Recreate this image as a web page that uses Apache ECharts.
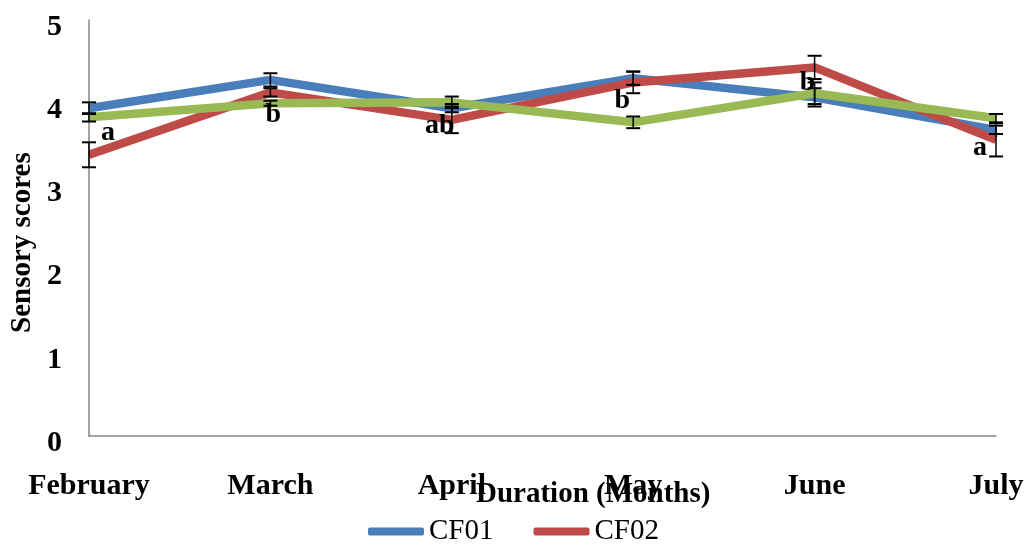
<!DOCTYPE html>
<html><head><meta charset="utf-8">
<script src="https://cdn.jsdelivr.net/npm/echarts@6/dist/echarts.min.js"></script>
<style>html,body{margin:0;padding:0;background:#fff}#c{width:1027px;height:547px}</style>
</head><body><div id="c"></div>
<script>
const months = ['February','March','April','May','June','July'];
const cf01 = [3.94, 4.28, 3.94, 4.30, 4.07, 3.68];
const cf02 = [3.38, 4.13, 3.80, 4.25, 4.43, 3.56];
const cf03 = [3.83, 4.00, 4.01, 3.77, 4.12, 3.82];
const err01 = [0.07, 0.08, 0.05, 0.08, 0.11, 0.05];
const err02 = [0.15, 0.05, 0.16, 0.13, 0.14, 0.20];
const err03 = [0.05, 0.03, 0.07, 0.07, 0.13, 0.05];
const letters = ['a','b','ab','b','b','a'];
const letterY = [3.65, 3.86, 3.73, 4.03, 4.25, 3.46];
const letterDx = [19, 3, -12, -11, -7, -16];
const yTicks = [0,1,2,3,4,5];

const FONT = '"Liberation Serif","Times New Roman",serif';
const colors = ['#4a7ebb','#be4b48','#98b954'];

function errSeries(vals, errs){
  return {
    type:'custom', silent:true, z:5,
    data: vals.map((v,i)=>[i, v, errs[i]]),
    renderItem:(params, api)=>{
      const x = api.value(0), v = api.value(1), e = api.value(2);
      const top = api.coord([x, v+e]), bot = api.coord([x, v-e]);
      const w = 7;
      return {type:'group', children:[
        {type:'line', shape:{x1:top[0],y1:top[1],x2:bot[0],y2:bot[1]}, style:{stroke:'#000',lineWidth:1.5}},
        {type:'line', shape:{x1:top[0]-w,y1:top[1],x2:top[0]+w,y2:top[1]}, style:{stroke:'#000',lineWidth:2}},
        {type:'line', shape:{x1:bot[0]-w,y1:bot[1],x2:bot[0]+w,y2:bot[1]}, style:{stroke:'#000',lineWidth:2}}
      ]};
    }
  };
}
function lineSeries(name, vals, color){
  return {name, type:'line', data:vals, symbol:'none', z:3,
    lineStyle:{color, width:8.5}, itemStyle:{color}};
}

const chart = echarts.init(document.getElementById('c'));
chart.setOption({
  animation:false,
  grid:{left:89, right:31, top:20, bottom:111},
  xAxis:{type:'category', data:months, boundaryGap:false,
    axisLine:{lineStyle:{color:'#868686', width:1.5}}, axisTick:{show:false},
    axisLabel:{fontFamily:FONT, fontWeight:'bold', fontSize:30, color:'#000', margin:35, interval:0}},
  yAxis:{type:'value', min:0, max:5, interval:1,
    axisLine:{show:true, lineStyle:{color:'#868686', width:1.5}}, axisTick:{show:false},
    splitLine:{show:false},
    axisLabel:{color:'#000', margin:27,
      formatter:v=> yTicks.includes(v) ? '{t|' + v + '}' : '',
      rich:{t:{fontFamily:FONT, fontWeight:'bold', fontSize:30, color:'#000', padding:[14,0,0,0]}}}},
  legend:{data:['CF01','CF02'], bottom:-4, left:'center', itemWidth:56, itemHeight:8, itemGap:40,
    icon:'roundRect',
    textStyle:{fontFamily:FONT, fontSize:29, color:'#000'}},
  graphic:[
    {type:'text', left:476, top:480, style:{text:'Duration (Months)', font:'bold 29px '+FONT, fill:'#000'}},
    {type:'text', x:8, y:333, rotation:Math.PI/2, style:{text:'Sensory scores', font:'bold 29px '+FONT, fill:'#000'}}
  ],
  series:[
    lineSeries('CF01', cf01, colors[0]),
    lineSeries('CF02', cf02, colors[1]),
    lineSeries('CF03', cf03, colors[2]),
    errSeries(cf01, err01), errSeries(cf02, err02), errSeries(cf03, err03),
    {type:'custom', silent:true, z:6,
     data: letterY.map((v,i)=>[i, v]),
     renderItem:(params, api)=>{
       const p = api.coord([api.value(0), api.value(1)]);
       const i = params.dataIndex;
       return {type:'text', x:p[0]+letterDx[i], y:p[1],
         style:{text:letters[i], font:'bold 28px '+FONT, fill:'#000', align:'center', verticalAlign:'middle'}};
     }}
  ]
});
</script></body></html>
